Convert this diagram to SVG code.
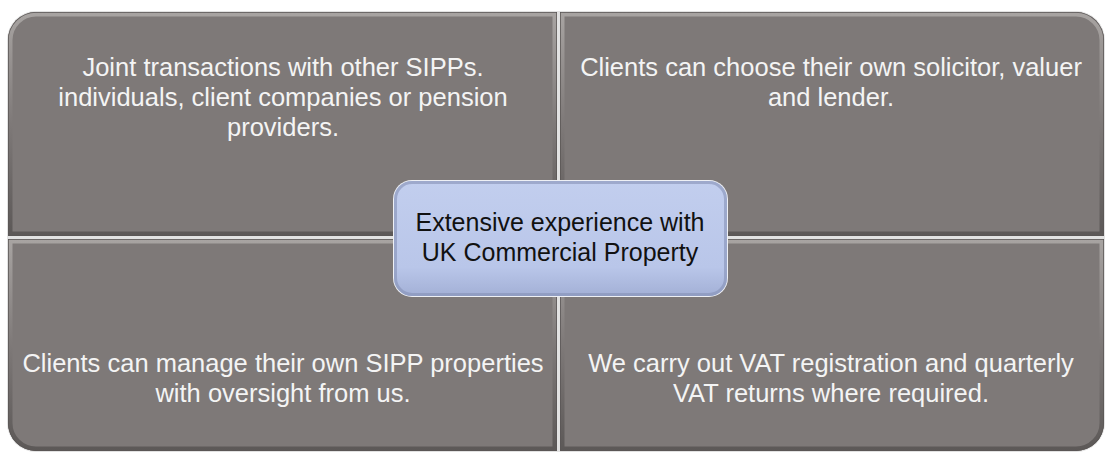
<svg xmlns="http://www.w3.org/2000/svg" width="1107" height="454" viewBox="0 0 1107 454">
  <defs>
    <linearGradient id="bevelV" x1="0" y1="0" x2="0" y2="1">
      <stop offset="0" stop-color="#a8a4a2"/>
      <stop offset="0.5" stop-color="#7e7978"/>
      <stop offset="1" stop-color="#5c5857"/>
    </linearGradient>
    <linearGradient id="blueFill" x1="0" y1="0" x2="0" y2="1">
      <stop offset="0" stop-color="#c2ceee"/>
      <stop offset="0.75" stop-color="#b9c6e9"/>
      <stop offset="1" stop-color="#a3b0d6"/>
    </linearGradient>
    <clipPath id="cTL"><path d="M8,236 V40 A28,28 0 0 1 36,12 H557 V236 Z"/></clipPath>
    <clipPath id="cTR"><path d="M560,12 H1076 A28,28 0 0 1 1104,40 V236 H560 Z"/></clipPath>
    <clipPath id="cBL"><path d="M8,239 H557 V451 H36 A28,28 0 0 1 8,423 Z"/></clipPath>
    <clipPath id="cBR"><path d="M560,239 H1104 V423 A28,28 0 0 1 1076,451 H560 Z"/></clipPath>
    <clipPath id="cC"><rect x="394" y="181" width="333" height="115" rx="18"/></clipPath>
  </defs>
  <style>
    .q { fill: #7e7978; }
    .edge { fill: none; stroke: url(#bevelV); stroke-width: 9; }
    .dark { fill: none; stroke: #5a5655; stroke-width: 1.5; }
    .t { font-family: "Liberation Sans", Arial, sans-serif; font-size: 25.5px; fill: #f4f4f4; text-anchor: middle; }
    .tc { font-family: "Liberation Sans", Arial, sans-serif; font-size: 25px; fill: #111111; text-anchor: middle; }
  </style>

  <!-- light backing showing between quadrants -->
  <rect x="7" y="11" width="1098" height="441" rx="29" fill="#e2e2e2"/>

  <g id="node-top-left">
    <path class="q" d="M8,236 V40 A28,28 0 0 1 36,12 H557 V236 Z"/>
    <g clip-path="url(#cTL)">
      <path class="edge" d="M8,236 V40 A28,28 0 0 1 36,12 H557 V236 Z"/>
      <path class="dark" d="M8,236 V40 A28,28 0 0 1 36,12 H557 V236 Z"/>
    </g>
    <text class="t" x="283" y="76">Joint transactions with other SIPPs.</text>
    <text class="t" x="283" y="106">individuals, client companies or pension</text>
    <text class="t" x="283" y="136">providers.</text>
  </g>

  <g id="node-top-right">
    <path class="q" d="M560,12 H1076 A28,28 0 0 1 1104,40 V236 H560 Z"/>
    <g clip-path="url(#cTR)">
      <path class="edge" d="M560,12 H1076 A28,28 0 0 1 1104,40 V236 H560 Z"/>
      <path class="dark" d="M560,12 H1076 A28,28 0 0 1 1104,40 V236 H560 Z"/>
    </g>
    <text class="t" x="831" y="76">Clients can choose their own solicitor, valuer</text>
    <text class="t" x="831" y="106">and lender.</text>
  </g>

  <g id="node-bottom-left">
    <path class="q" d="M8,239 H557 V451 H36 A28,28 0 0 1 8,423 Z"/>
    <g clip-path="url(#cBL)">
      <path class="edge" d="M8,239 H557 V451 H36 A28,28 0 0 1 8,423 Z"/>
      <path class="dark" d="M8,239 H557 V451 H36 A28,28 0 0 1 8,423 Z"/>
    </g>
    <text class="t" x="283" y="372">Clients can manage their own SIPP properties</text>
    <text class="t" x="283" y="402">with oversight from us.</text>
  </g>

  <g id="node-bottom-right">
    <path class="q" d="M560,239 H1104 V423 A28,28 0 0 1 1076,451 H560 Z"/>
    <g clip-path="url(#cBR)">
      <path class="edge" d="M560,239 H1104 V423 A28,28 0 0 1 1076,451 H560 Z"/>
      <path class="dark" d="M560,239 H1104 V423 A28,28 0 0 1 1076,451 H560 Z"/>
    </g>
    <text class="t" x="831" y="372">We carry out VAT registration and quarterly</text>
    <text class="t" x="831" y="402">VAT returns where required.</text>
  </g>

  <g id="connectors"></g>

  <g id="node-center">
    <rect x="393" y="180" width="335" height="117" rx="19" fill="#eef0f5"/>
    <rect x="394" y="181" width="333" height="115" rx="18" fill="url(#blueFill)"/>
    <g clip-path="url(#cC)">
      <rect x="394" y="181" width="333" height="115" rx="18" fill="none" stroke="#8591b5" stroke-width="6" opacity="0.6"/>
    </g>
    <text class="tc" x="560" y="231">Extensive experience with</text>
    <text class="tc" x="560" y="261">UK Commercial Property</text>
  </g>
</svg>
